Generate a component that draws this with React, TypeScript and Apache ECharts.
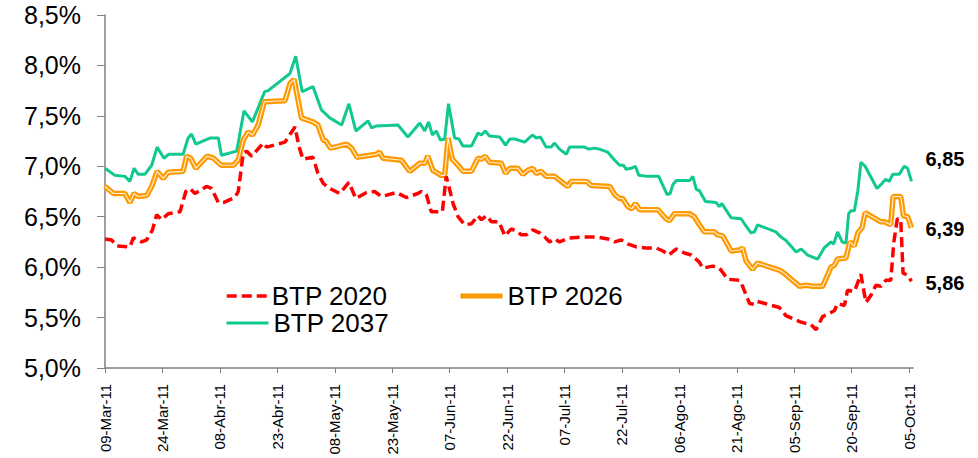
import React, { useEffect, useRef } from "react";
import * as echarts from "echarts";

// x = days elapsed since 09-Mar-11, y = yield in %
const tickLabels = [
  "09-Mar-11", "24-Mar-11", "08-Abr-11", "23-Abr-11", "08-May-11", "23-May-11", "07-Jun-11",
  "22-Jun-11", "07-Jul-11", "22-Jul-11", "06-Ago-11", "21-Ago-11", "05-Sep-11", "20-Sep-11", "05-Oct-11",
];
const tickStepDays = 15;
const lastDay = 211;

const yTicks = { min: 5.0, max: 8.5, step: 0.5 };

const btp2020 = [
  [0, 6.28], [1.7, 6.27], [3.1, 6.21], [6.5, 6.2], [7.4, 6.29], [9.6, 6.25], [10.9, 6.27], [12.4, 6.37],
  [13.5, 6.52], [14.8, 6.47], [16.5, 6.53], [19.6, 6.55], [21.1, 6.75], [22.2, 6.78], [23.5, 6.73],
  [26.5, 6.8], [27.8, 6.78], [29.6, 6.64], [30.9, 6.64], [33.9, 6.69], [34.8, 6.75], [36.1, 7.13],
  [37, 7.15], [38.3, 7.1], [41.3, 7.23], [42.2, 7.19], [47, 7.24], [49.6, 7.39], [50.7, 7.19],
  [51.7, 7.07], [54.3, 7.09], [55.6, 6.93], [57, 6.83], [58.7, 6.78], [61.3, 6.73], [63.7, 6.84],
  [65.5, 6.68], [68.3, 6.74], [70.4, 6.75], [72.2, 6.7], [76.1, 6.74], [78.7, 6.69], [81.7, 6.73],
  [82.6, 6.75], [83.9, 6.72], [85.2, 6.55], [88.1, 6.55], [89.1, 6.9], [89.8, 6.8], [90.9, 6.63],
  [92.2, 6.5], [93.9, 6.42], [95.7, 6.43], [97.4, 6.51], [98.3, 6.47], [99.6, 6.51], [100.9, 6.45],
  [102.9, 6.45], [104.4, 6.31], [106.1, 6.38], [107.8, 6.35], [108.7, 6.32], [110, 6.32], [111.7, 6.37],
  [113.5, 6.34], [114.8, 6.3], [116.1, 6.25], [117.4, 6.28], [118.7, 6.25], [121.3, 6.29], [124.8, 6.3],
  [128.3, 6.3], [131.3, 6.28], [133.1, 6.25], [134.8, 6.27], [136.5, 6.23], [138.7, 6.2], [141.3, 6.19],
  [143.9, 6.19], [145.7, 6.16], [147.2, 6.12], [149.2, 6.18], [151.3, 6.14], [153.1, 6.12], [155.2, 6.05],
  [156.1, 5.99], [158.7, 6.01], [160, 6.0], [160.9, 5.97], [162.6, 5.88], [165.7, 5.87], [166.5, 5.81],
  [168.3, 5.64], [169.6, 5.63], [170.4, 5.66], [176.1, 5.6], [177.8, 5.52], [181.4, 5.46], [183.1, 5.44],
  [184.4, 5.43], [185.7, 5.38], [187.4, 5.51], [189.1, 5.54], [190.5, 5.57], [191.3, 5.64], [193.1, 5.62],
  [193.9, 5.77], [195.7, 5.76], [196.6, 5.85], [197.4, 5.93], [198.7, 5.65], [200, 5.72], [201.3, 5.82],
  [202.6, 5.81], [203.9, 5.87], [205.2, 5.87], [206, 6.25], [206.9, 6.48], [207.8, 6.47], [208.4, 5.94],
  [209.6, 5.92], [210.6, 5.86],
];

const btp2026 = [
  [0, 6.8], [2.2, 6.73], [5.2, 6.73], [6.5, 6.64], [7.6, 6.73], [8.7, 6.7], [10.9, 6.71], [12.2, 6.8],
  [13.6, 6.95], [15.2, 6.88], [16.5, 6.94], [20.4, 6.95], [21.3, 7.1], [22.4, 7.08], [23.7, 6.98],
  [26.7, 7.1], [28.3, 7.08], [30.4, 7.01], [33.5, 7.01], [34.8, 7.06], [36.1, 7.26], [37.4, 7.34],
  [38.5, 7.31], [40, 7.41], [41.6, 7.64], [47, 7.65], [48.3, 7.82], [49.4, 7.86], [51.3, 7.48],
  [53.5, 7.45], [54.3, 7.44], [55.6, 7.41], [57, 7.26], [57.7, 7.25], [58.9, 7.18], [63.1, 7.22],
  [64.4, 7.18], [65.8, 7.09], [70.9, 7.12], [71.7, 7.14], [72.6, 7.08], [77.4, 7.06], [79.6, 6.95],
  [82.2, 7.03], [83.5, 7.03], [84.3, 7.1], [85.6, 6.96], [87.8, 6.91], [88.7, 6.91], [89.6, 7.28],
  [90.7, 7.07], [92.2, 7.01], [93.5, 6.95], [95.7, 6.95], [97.4, 7.08], [98.3, 7.07], [99.3, 7.1],
  [100.4, 7.04], [103.5, 7.03], [104.6, 6.93], [105.7, 6.98], [107.8, 6.98], [109.1, 6.92], [110.4, 6.96],
  [111.7, 6.98], [112.6, 6.93], [113.9, 6.95], [115.2, 6.9], [117.4, 6.9], [119.1, 6.85], [120.9, 6.8],
  [121.7, 6.85], [125.7, 6.85], [127, 6.81], [131.8, 6.8], [133.1, 6.72], [134.4, 6.68], [135.2, 6.68],
  [136.5, 6.6], [137.6, 6.58], [138.5, 6.63], [139.6, 6.57], [144.4, 6.57], [146.5, 6.48], [147.4, 6.46],
  [148.7, 6.53], [152.6, 6.53], [153.9, 6.5], [155.2, 6.42], [156.5, 6.35], [159.1, 6.35], [160, 6.32],
  [161.3, 6.31], [163.5, 6.16], [165.7, 6.17], [166.5, 6.19], [167.4, 6.06], [169.1, 5.98], [170.4, 6.04],
  [176.1, 5.97], [177, 5.95], [181.4, 5.81], [183.1, 5.82], [184.8, 5.81], [187.4, 5.81], [189.6, 6.0],
  [190.5, 6.02], [191.3, 6.08], [193.5, 6.09], [194.5, 6.25], [195.7, 6.21], [196.6, 6.34], [197.7, 6.39],
  [198.5, 6.54], [202.6, 6.45], [203.5, 6.45], [205.2, 6.42], [205.8, 6.7], [207.8, 6.7], [208.5, 6.51],
  [209.6, 6.5], [210.6, 6.39],
];

const btp2037 = [
  [0, 6.98], [2.6, 6.91], [5.2, 6.9], [6.5, 6.85], [7.6, 6.98], [8.7, 6.92], [10.4, 6.92], [12.2, 7.01],
  [13.6, 7.19], [15.4, 7.08], [16.7, 7.12], [20.4, 7.12], [21.7, 7.28], [22.6, 7.32], [23.7, 7.22],
  [27.4, 7.28], [29.6, 7.28], [30.4, 7.11], [34.4, 7.15], [36.3, 7.55], [38.5, 7.44], [41.7, 7.74],
  [42.6, 7.75], [48.3, 7.92], [49.8, 8.09], [51.5, 7.74], [54.3, 7.79], [56.5, 7.56], [58.7, 7.48],
  [61.8, 7.41], [63.7, 7.62], [65.5, 7.35], [68.7, 7.45], [69.6, 7.38], [70.9, 7.4], [76.5, 7.41],
  [79.1, 7.29], [82.2, 7.43], [83.5, 7.35], [84.5, 7.44], [85.5, 7.31], [86.5, 7.35], [87.6, 7.26],
  [88.7, 7.27], [89.7, 7.62], [91.3, 7.28], [92.4, 7.27], [93.5, 7.2], [95.7, 7.2], [97.4, 7.33],
  [98.3, 7.31], [99.3, 7.35], [100.4, 7.3], [103.1, 7.29], [104.6, 7.21], [105.7, 7.27], [107, 7.27],
  [109.6, 7.24], [111.6, 7.31], [112.6, 7.28], [113.7, 7.29], [115.2, 7.19], [116.5, 7.19], [117.4, 7.23],
  [118.7, 7.17], [120.5, 7.12], [121.3, 7.19], [125.2, 7.19], [126.4, 7.17], [127.8, 7.18], [129.1, 7.17],
  [131.3, 7.14], [133.1, 7.06], [134.4, 7.01], [135.4, 7.01], [136.1, 6.97], [137.4, 6.98], [138.5, 7.0],
  [139.4, 6.91], [141.7, 6.9], [144.6, 6.9], [145.8, 6.8], [146.8, 6.72], [147.6, 6.73], [148.3, 6.82],
  [149.2, 6.86], [152.7, 6.86], [153.5, 6.9], [154.4, 6.77], [155.2, 6.76], [156.8, 6.65], [159.6, 6.64],
  [160.4, 6.6], [161.1, 6.63], [163.5, 6.49], [166.1, 6.48], [167, 6.43], [168.7, 6.34], [169.6, 6.35],
  [170.4, 6.42], [175.2, 6.35], [176.5, 6.3], [177.7, 6.27], [180.5, 6.15], [181.8, 6.18], [183.5, 6.12],
  [184.8, 6.1], [186.1, 6.08], [187.8, 6.19], [189.6, 6.25], [190.3, 6.23], [191.3, 6.35], [192.5, 6.25],
  [193.5, 6.24], [194.2, 6.53], [194.8, 6.56], [195.7, 6.56], [196.6, 6.76], [197.4, 7.04], [198.5, 7.0],
  [201.6, 6.78], [202.9, 6.83], [203.8, 6.87], [204.8, 6.85], [205.7, 6.92], [207.4, 6.92], [208.7, 7.0],
  [209.6, 6.98], [210.6, 6.85],
];

const seriesNames = ["BTP 2020", "BTP 2026", "BTP 2037"];
const seriesColors = ["#FF0000", "#FF9900", "#10C890"];

const FONT = "'Liberation Sans', Arial, Helvetica, sans-serif";
const fmtComma = (v: number, d: number) => v.toFixed(d).replace(".", ",");

export default function App() {
  const ref = useRef<HTMLDivElement>(null);

  useEffect(() => {
    if (!ref.current) return;
    const chart = echarts.init(ref.current, undefined, { renderer: "svg" });
    const tickDays = tickLabels.map((_, i) => i * tickStepDays);
    const endLabel = (offset: number[]) => ({
      show: true,
      distance: 14,
      offset,
      color: "#000",
      fontFamily: FONT,
      fontWeight: "bold" as const,
      fontSize: 20,
      formatter: (p: any) => fmtComma(p.value[1], 2),
    });
    const legendText = { color: "#000", fontFamily: FONT, fontSize: 26 };
    const legendBase = {
      padding: 0,
      itemHeight: 14,
      textStyle: legendText,
      selectedMode: false,
      itemStyle: { opacity: 0 },
    };
    chart.setOption({
      animation: false,
      backgroundColor: "#fff",
      grid: { left: 105, right: 65, top: 15, bottom: 90, containLabel: false },
      legend: [
        { ...legendBase, data: [seriesNames[0]], left: 225, top: 283, itemWidth: 40, lineStyle: { width: 3.5 } },
        { ...legendBase, data: [seriesNames[1]], left: 458, top: 283, itemWidth: 42, lineStyle: { width: 5 } },
        { ...legendBase, data: [seriesNames[2]], left: 225, top: 310, itemWidth: 42, lineStyle: { width: 3 } },
      ],
      xAxis: {
        type: "value",
        min: 0,
        max: lastDay,
        splitLine: { show: false },
        axisLine: { show: true, lineStyle: { color: "#808080", width: 1.5 } },
        axisTick: { show: true, length: 5, customValues: tickDays, lineStyle: { color: "#808080" } },
        axisLabel: {
          customValues: tickDays,
          rotate: 90,
          margin: 16,
          color: "#000",
          fontFamily: FONT,
          fontSize: 15,
          formatter: (v: number) => tickLabels[Math.round(v / tickStepDays)] ?? "",
        },
      },
      yAxis: {
        type: "value",
        min: yTicks.min,
        max: yTicks.max,
        interval: yTicks.step,
        splitLine: { show: false },
        axisLine: { show: true, lineStyle: { color: "#808080", width: 1.5 } },
        axisTick: { show: true, length: 8, lineStyle: { color: "#808080" } },
        axisLabel: {
          margin: 24,
          color: "#000",
          fontFamily: FONT,
          fontSize: 25,
          formatter: (v: number) => fmtComma(v, 1) + "%",
        },
      },
      series: [
        {
          name: seriesNames[2],
          type: "line",
          data: btp2037,
          symbol: "none",
          z: 2,
          lineStyle: { color: seriesColors[2], width: 3 },
          itemStyle: { color: seriesColors[2] },
          endLabel: endLabel([0, -22]),
        },
        {
          name: seriesNames[1],
          type: "line",
          data: btp2026,
          symbol: "none",
          z: 3,
          lineStyle: { color: seriesColors[1], width: 5.5 },
          itemStyle: { color: seriesColors[1] },
          endLabel: endLabel([0, 1]),
        },
        {
          name: "BTP 2026 inner",
          type: "line",
          data: btp2026,
          symbol: "none",
          silent: true,
          z: 4,
          lineStyle: { color: "#FFF3DC", width: 1.1 },
        },
        {
          name: seriesNames[0],
          type: "line",
          data: btp2020,
          symbol: "none",
          z: 5,
          lineStyle: { color: seriesColors[0], width: 3.5, type: [10, 5] },
          itemStyle: { color: seriesColors[0] },
          endLabel: endLabel([0, 2]),
        },
      ],
    });
    return () => chart.dispose();
  }, []);

  return (
    <div
      ref={ref}
      style={{ position: "fixed", left: 0, top: 0, width: 978, height: 458, background: "#fff" }}
    />
  );
}
